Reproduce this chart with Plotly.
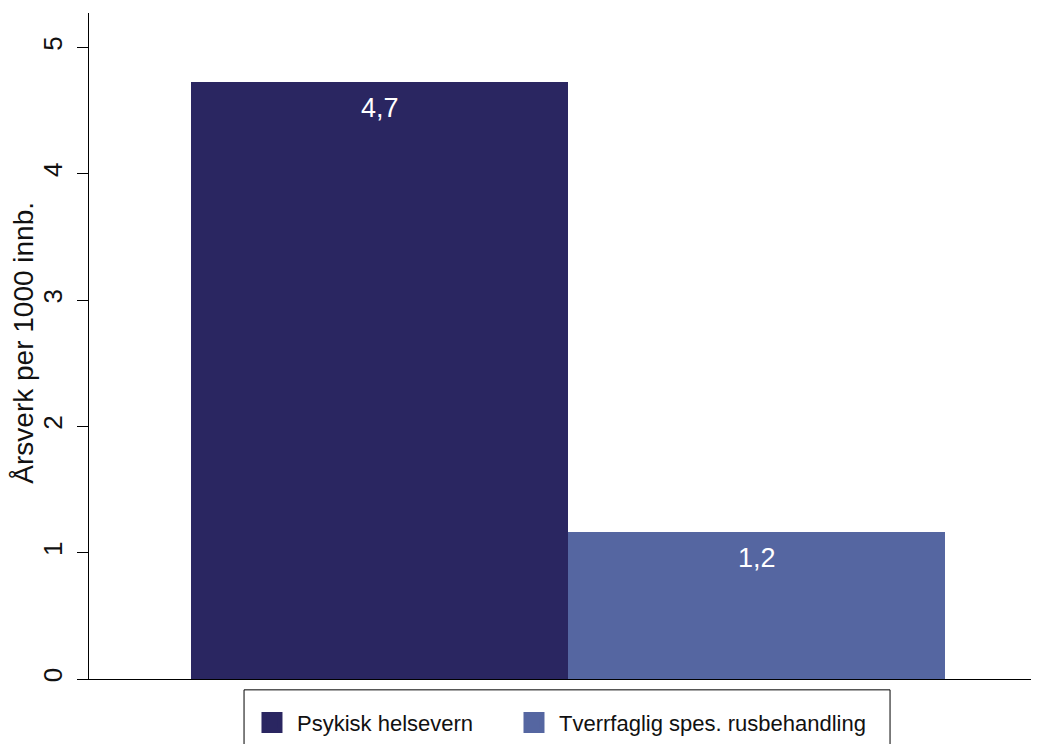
import plotly.graph_objects as go

categories = ["Psykisk helsevern", "Tverrfaglig spes. rusbehandling"]
values = [4.73, 1.16]
labels = ["4,7", "1,2"]
colors = ["#2a2661", "#5566a1"]
ytick_vals = [0, 1, 2, 3, 4, 5]
y_title = "Årsverk per 1000 innb."

FONT = "Liberation Sans, Arial"
legend_names = ["legend", "legend2"]

fig = go.Figure()
for i, (c, v, col) in enumerate(zip(categories, values, colors)):
    fig.add_trace(go.Bar(x=[i], y=[v], name=c, marker=dict(color=col, line=dict(width=0)),
                         width=1.0, showlegend=False, hoverinfo="skip"))
    fig.add_trace(go.Scatter(x=[None], y=[None], mode="markers", name=c, legend=legend_names[i],
                             marker=dict(symbol="square", size=18, color=col,
                                         line=dict(color=col, width=6)), showlegend=True))
    fig.add_annotation(x=i, y=v, text=labels[i], showarrow=False, yanchor="top", yshift=-9,
                       font=dict(color="white", size=27, family=FONT))

fig.add_annotation(xref="paper", yref="paper", x=-0.0684, y=0.505, text=y_title, textangle=-90,
                   showarrow=False, xanchor="center", yanchor="middle",
                   font=dict(size=28, family=FONT, color="#111"))

# legend frame
fig.add_shape(type="rect", xref="paper", yref="paper", x0=0.1632, x1=0.8432, y0=-0.3, y1=-0.0163,
              line=dict(color="black", width=1), fillcolor="rgba(0,0,0,0)", layer="above")

leg_common = dict(orientation="h", y=-0.034, yanchor="top", xanchor="left",
                  bgcolor="rgba(0,0,0,0)", borderwidth=0, font=dict(size=22, family=FONT, color="#111"),
                  itemsizing="trace", itemwidth=40)

fig.update_layout(
    width=1031, height=736,
    margin=dict(l=81, r=0, t=5, b=56),
    paper_bgcolor="white", plot_bgcolor="white",
    font=dict(family=FONT, color="#111", size=18),
    barmode="overlay", bargap=0,
    showlegend=True,
    legend=dict(x=0.1663, **leg_common),
    legend2=dict(x=0.4421, **leg_common),
    xaxis=dict(range=[-0.7706, 1.749], showticklabels=False, ticks="", showgrid=False,
               zeroline=False, showline=True, linecolor="black", linewidth=1.2),
    yaxis=dict(range=[0, 5.273], tickvals=ytick_vals, ticks="outside", ticklen=11, tickcolor="black",
               tickangle=-90, tickfont=dict(size=26), ticklabelstandoff=5, showgrid=False,
               zeroline=False, showline=True, linecolor="black", linewidth=1.2),
)
fig.write_html("out.html")
